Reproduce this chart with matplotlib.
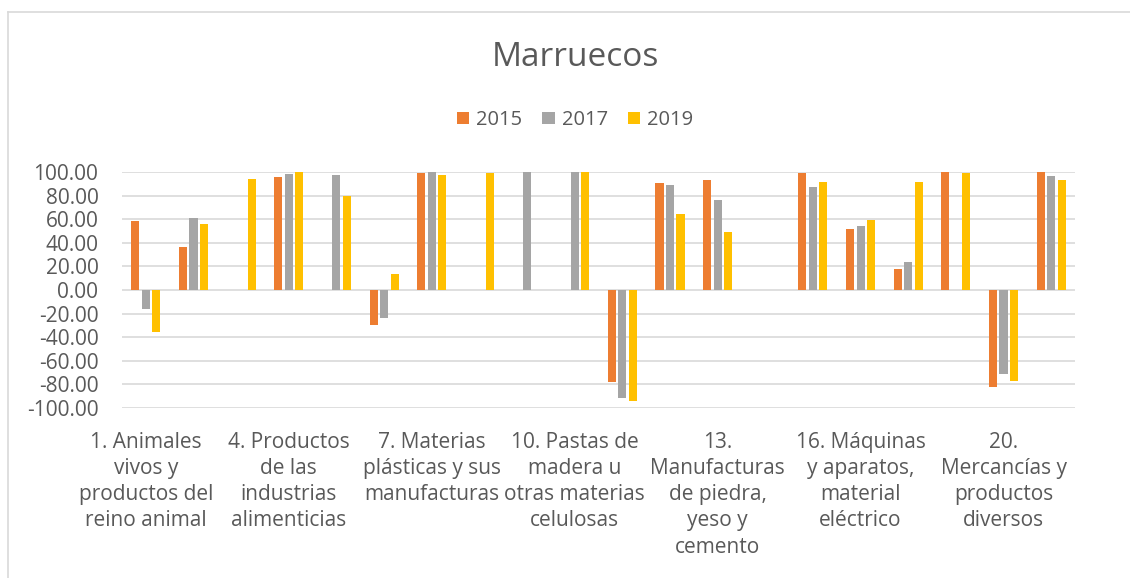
import numpy as np
import matplotlib.pyplot as plt
from matplotlib.patches import Patch
from matplotlib.lines import Line2D

plt.rcParams['font.family'] = ['Open Sans', 'DejaVu Sans']

# sections 1..21 (19 not in the data)
sections = [1, 2, 3, 4, 5, 6, 7, 8, 9, 10, 11, 12, 13, 14, 15, 16, 17, 18, 20, 21]
label_pos = [0, 3, 6, 9, 12, 15, 18]
labels = [
    "1. Animales\nvivos y\nproductos del\nreino animal",
    "4. Productos\nde las\nindustrias\nalimenticias",
    "7. Materias\nplásticas y sus\nmanufacturas",
    "10. Pastas de\nmadera u\notras materias\ncelulosas",
    "13.\nManufacturas\nde piedra,\nyeso y\ncemento",
    "16. Máquinas\ny aparatos,\nmaterial\neléctrico",
    "20.\nMercancías y\nproductos\ndiversos",
]

nan = np.nan
v2015 = [58.4, 36.8, nan, 96.0, nan, -29.9, 99.4, nan, nan, nan,
         -78.0, 90.9, 93.2, nan, 99.4, 52.1, 18.2, 100.0, -81.8, 99.7]
v2017 = [-15.7, 61.0, nan, 98.0, 97.4, -23.6, 99.7, nan, 99.7, 100.0,
         -91.7, 89.2, 76.4, nan, 87.7, 54.1, 23.9, nan, -71.2, 96.3]
v2019 = [-35.6, 56.0, 94.3, 99.7, 80.0, 13.4, 97.4, 99.4, nan, 100.0,
         -94.0, 64.4, 49.0, nan, 91.2, 59.0, 91.2, 99.4, -76.9, 92.9]

years = ["2015", "2017", "2019"]
colors = ["#ED7D31", "#A5A5A5", "#FFC000"]
txt = "#595959"

fig = plt.figure(figsize=(11.3, 5.78), dpi=100)
ax = fig.add_axes([122/1130, 1-408/578, (1075-122)/1130, (408-172)/578])

x = np.arange(len(sections))
w = 0.17
off = 0.22
for i, (vals, c) in enumerate(zip([v2015, v2017, v2019], colors)):
    ax.bar(x + (i-1)*off, vals, width=w, color=c, zorder=3)

ax.set_xlim(-0.5, len(sections)-0.5)
ax.set_ylim(-100, 100)
ax.set_yticks(np.arange(-100, 101, 20))
ax.set_yticklabels([f"{t:.2f}" for t in np.arange(-100, 101, 20)])
ax.yaxis.grid(True, color="#D9D9D9", linewidth=1.2, zorder=0)
ax.set_axisbelow(True)
for s in ax.spines.values():
    s.set_visible(False)
ax.tick_params(axis='y', length=0, pad=17, labelsize=15, labelcolor=txt)

ax.set_xticks(label_pos)
ax.set_xticklabels(labels, linespacing=1.33)
ax.tick_params(axis='x', length=0, pad=17, labelsize=15, labelcolor=txt)

fig.text(0.509, 1-57/578, "Marruecos", ha='center', va='center', fontsize=24, color=txt)

handles = [Patch(facecolor=c, edgecolor='none') for c in colors]
fig.legend(handles, years, loc='center', bbox_to_anchor=(0.509, 1-120/578), ncol=3,
           frameon=False, fontsize=14.5, handlelength=0.6, handleheight=0.6,
           handletextpad=0.36, columnspacing=1.0, labelcolor=txt)

# chart area border (left and top)
fig.add_artist(Line2D([8/1130, 8/1130], [0, 1-12/578], color="#D9D9D9", lw=1.2))
fig.add_artist(Line2D([8/1130, 1], [1-12/578, 1-12/578], color="#D9D9D9", lw=1.2))

fig.savefig("out.png", dpi=100, facecolor="white")
